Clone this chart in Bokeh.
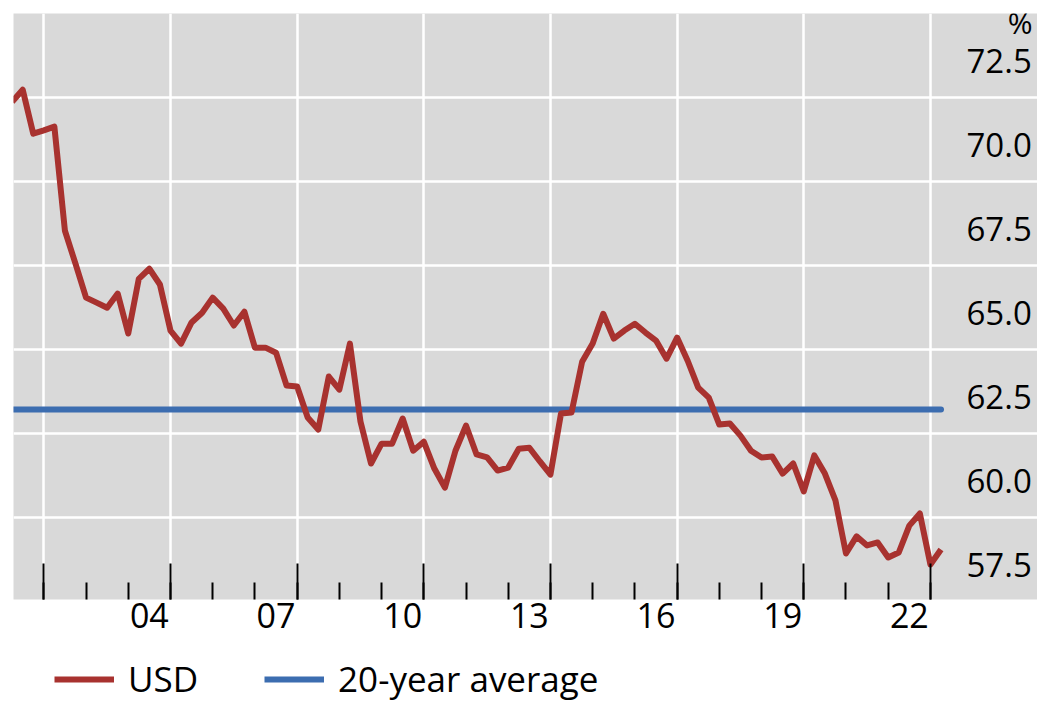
from bokeh.plotting import figure
from bokeh.layouts import column
from bokeh.models import (Range1d, LinearAxis, FixedTicker, Legend, LegendItem,
                          Label, Grid, CustomLabelingPolicy)
from bokeh.embed import file_html
from bokeh.resources import INLINE

# ---------------- data ----------------
first_year = 2001  # series starts 2001Q1, quarterly to 2023Q1
usd_share = [72.37, 72.73, 71.42, 71.52, 71.63, 68.53, 67.55, 66.54, 66.39, 66.24,
             66.66, 65.47, 67.10, 67.40, 66.93, 65.56, 65.17, 65.80, 66.09, 66.54,
             66.21, 65.71, 66.12, 65.05, 65.05, 64.90, 63.92, 63.89, 62.97, 62.61,
             64.19, 63.80, 65.17, 62.85, 61.60, 62.19, 62.19, 62.94, 61.98, 62.25,
             61.45, 60.88, 61.98, 62.73, 61.87, 61.78, 61.39, 61.48, 62.04, 62.07,
             61.66, 61.27, 63.09, 63.12, 64.63, 65.17, 66.06, 65.32, 65.56, 65.76,
             65.50, 65.26, 64.72, 65.35, 64.66, 63.86, 63.56, 62.76, 62.79, 62.43,
             61.98, 61.78, 61.81, 61.30, 61.60, 60.77, 61.84, 61.30, 60.50, 58.92,
             59.43, 59.16, 59.25, 58.80, 58.95, 59.75, 60.11, 58.59, 59.04]
avg_20y = 63.21
series_names = ["USD", "20-year average"]

x_label_years = [2004, 2007, 2010, 2013, 2016, 2019, 2022]
x_tick_labels = ["04", "07", "10", "13", "16", "19", "22"]
y_ticks = [57.5, 60.0, 62.5, 65.0, 67.5, 70.0, 72.5]
y_tick_labels = ["57.5", "60.0", "62.5", "65.0", "67.5", "70.0", "72.5"]

# quarter-end positions in decimal years
x = [first_year + (i + 1) * 0.25 for i in range(len(usd_share))]

# ---------------- style ----------------
RED = "#A8322F"
BLUE = "#3C6DB0"
BG = "#D9D9D9"
FONT = "Open Sans"
LAB_OFF = 1.09

x_start, x_end = 2001.282, 2025.536
y_start, y_end = 57.55, 75.0

p = figure(width=1037, height=652, output_backend="svg", toolbar_location=None,
           x_range=Range1d(x_start, x_end), y_range=Range1d(y_start, y_end),
           x_axis_location="below", y_axis_location=None,
           min_border_left=13, min_border_right=0, min_border_top=13,
           min_border_bottom=53,
           background_fill_color=BG, border_fill_color="white",
           outline_line_color=None)
p.extra_y_ranges = {"lab": Range1d(y_start - LAB_OFF, y_end - LAB_OFF)}

no_labels = CustomLabelingPolicy(code="""
const ids = Array.from(indices)
for (const i of ids) {
  if (typeof indices.unset === "function") { indices.unset(i) } else { indices.set(i, false) }
}
return indices
""")

# tick-mark axis (year boundaries)
major_marks = [yr + 1 for yr in range(2001, 2023, 3)]
minor_marks = [yr for yr in range(2002, 2024)]
xa = p.xaxis[0]
xa.ticker = FixedTicker(ticks=major_marks, minor_ticks=minor_marks)
xa.major_tick_in = 36
xa.major_tick_out = 0
xa.minor_tick_in = 17
xa.minor_tick_out = 0
xa.major_tick_line_color = "black"
xa.minor_tick_line_color = "black"
xa.major_tick_line_width = 2
xa.minor_tick_line_width = 2
xa.axis_line_color = None
xa.major_label_text_font_size = "0px"
xa.major_label_standoff = 0
xa.major_label_policy = no_labels

# label axis (mid-year labels)
label_pos = [yr + 0.5 for yr in x_label_years]
xl = LinearAxis(ticker=FixedTicker(ticks=label_pos, minor_ticks=[]),
                major_label_overrides={pos: lab for pos, lab in zip(label_pos, x_tick_labels)})
xl.major_tick_in = 0
xl.major_tick_out = 0
xl.minor_tick_in = 0
xl.minor_tick_out = 0
xl.axis_line_color = None
xl.major_label_standoff = 3
xl.major_label_text_font = FONT
xl.major_label_text_font_size = "34px"
xl.major_label_text_color = "black"
p.add_layout(xl, "below")

# grids
p.xgrid.grid_line_color = "white"
p.xgrid.grid_line_width = 2.5
for g in p.ygrid:
    g.visible = False
yg = Grid(dimension=1, ticker=FixedTicker(ticks=y_ticks),
          grid_line_color="white", grid_line_width=2.5)
p.add_layout(yg)

# right label axis drawn inside the plotting area
ya = LinearAxis(y_range_name="lab", ticker=FixedTicker(ticks=y_ticks, minor_ticks=[]),
                major_label_overrides={t: lab for t, lab in zip(y_ticks, y_tick_labels)})
ya.major_tick_in = 0
ya.major_tick_out = 0
ya.minor_tick_in = 0
ya.minor_tick_out = 0
ya.axis_line_color = None
ya.major_label_standoff = -71
ya.major_label_text_font = FONT
ya.major_label_text_font_size = "33px"
ya.major_label_text_color = "black"
p.add_layout(ya, "right")

# series
r_avg = p.line([x[0], x[-1]], [avg_20y, avg_20y], line_color=BLUE, line_width=6,
               line_cap="round")
r_usd = p.line(x, usd_share, line_color=RED, line_width=6, line_join="round")

# unit label
p.add_layout(Label(x=x_end - 0.12, y=y_end - 0.27, text="%", text_align="right",
                   text_baseline="middle", text_font=FONT, text_font_size="30px",
                   text_color="black"))

# ---------------- legend strip ----------------
p2 = figure(width=1037, height=60, output_backend="svg", toolbar_location=None,
            x_range=Range1d(0, 1), y_range=Range1d(0, 1),
            x_axis_location=None, y_axis_location=None, min_border=0,
            background_fill_color="white", border_fill_color="white",
            outline_line_color=None)
p2.xgrid.visible = False
p2.ygrid.visible = False
# same series, outside this strip's visible range: only their legend keys show
k_usd = p2.line(x, usd_share, line_color=RED, line_width=6)
k_avg = p2.line([x[0], x[-1]], [avg_20y, avg_20y], line_color=BLUE, line_width=6)
legend = Legend(items=[LegendItem(label=series_names[0], renderers=[k_usd]),
                       LegendItem(label=series_names[1], renderers=[k_avg])],
                orientation="horizontal", location=(41, 10),
                border_line_color=None, background_fill_alpha=0,
                label_text_font=FONT, label_text_font_size="35px",
                label_text_color="black",
                glyph_width=60, glyph_height=20, spacing=66, label_standoff=14,
                padding=0, margin=0)
p2.add_layout(legend)

layout = column(p, p2, spacing=0)
open("out.html", "w").write(file_html(layout, INLINE))
